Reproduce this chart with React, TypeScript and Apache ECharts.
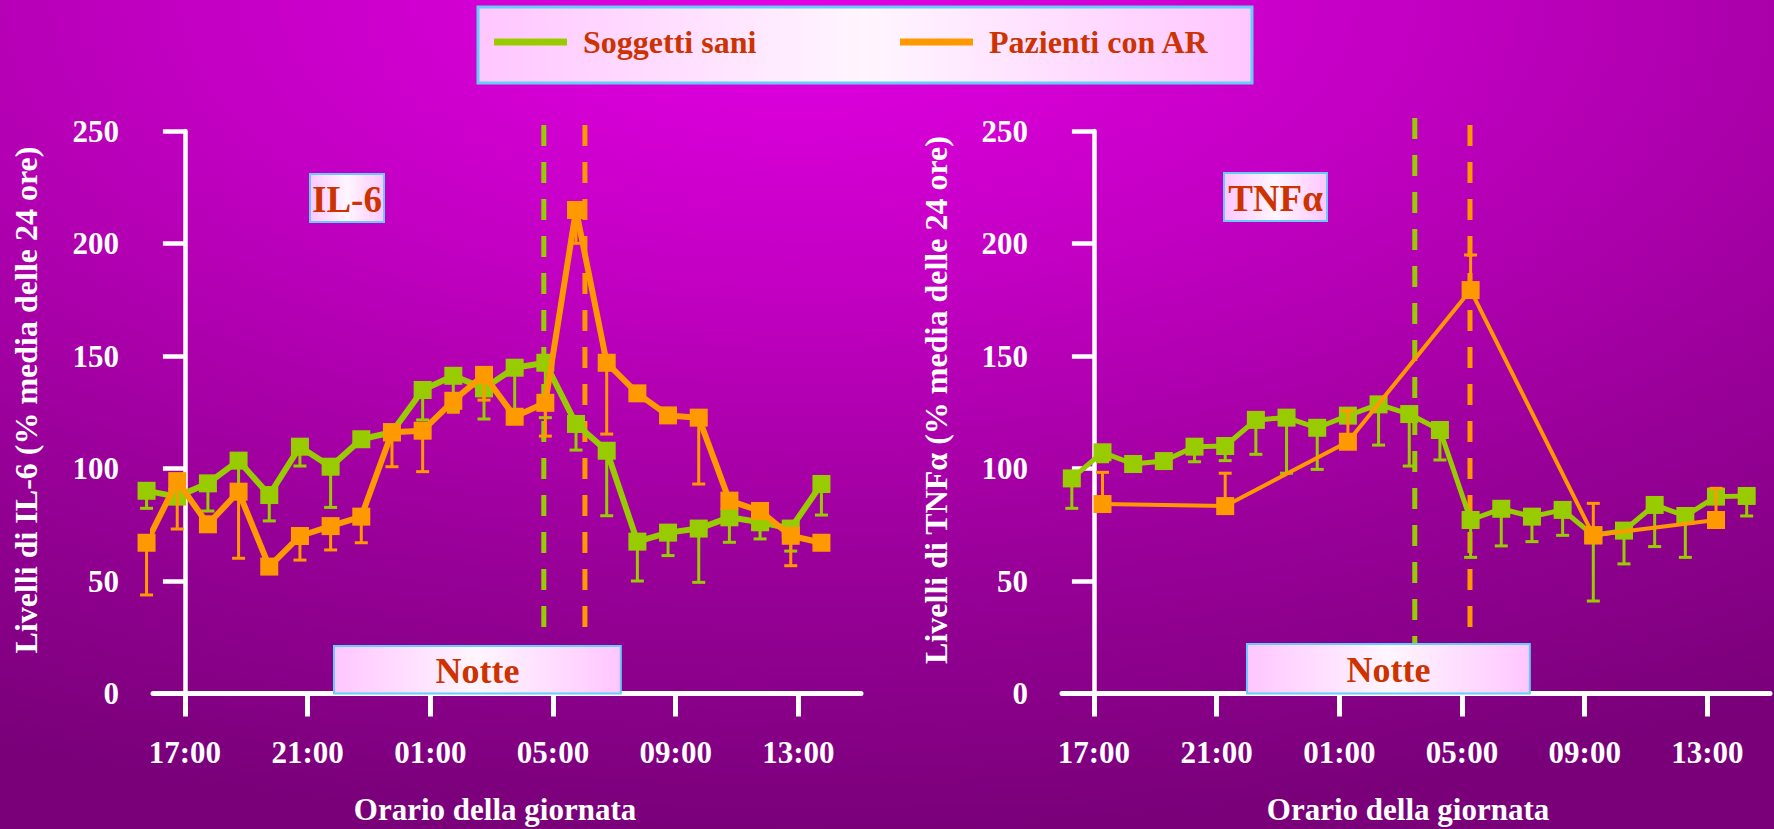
import React, { useEffect, useRef } from 'react';
import * as echarts from 'echarts';

const FONT = '"Liberation Serif", "Times New Roman", serif';
const GREEN = '#99cc00';
const ORANGE = '#ff9900';
const RED = '#cc3300';
const BORDER = '#66ccff';

// x values are hours after 17:00
const tickHours = [0, 4, 8, 12, 16, 20];
const tickLabels = ['17:00', '21:00', '01:00', '05:00', '09:00', '13:00'];

// ---- IL-6 panel ----
const il6Hours = [-1.25, -0.25, 0.75, 1.75, 2.75, 3.75, 4.75, 5.75, 6.75, 7.75, 8.75, 9.75, 10.75, 11.75, 12.75, 13.75, 14.75, 15.75, 16.75, 17.75, 18.75, 19.75, 20.75];
const il6Healthy = [90.1, 87.5, 93.4, 103.5, 88.2, 109.7, 100.8, 113, 116.1, 134.9, 141.2, 135.6, 144.8, 147, 119.8, 107.9, 67.5, 71.5, 73.3, 78.3, 76.1, 73.3, 93.1];
const il6HealthyErr = [82.3, null, 81.1, 90, 76.7, 101.1, 82.7, null, null, 121.6, 126, 122, 126, 122.6, 108.2, 79, 50, 61.3, 49.4, 67.2, 68.7, 63.3, 79.3];
const il6Patients = [67.0, 94.4, 75.2, 89.7, 56.4, 70.0, 74.4, 78.6, 116.1, 116.8, 130.1, 141.6, 123.0, 129.2, 214.9, 147.0, 133.4, 123.6, 122.6, 85.7, 81.1, 70.1, 67.0];
const il6PatientsErr = [43.8, 73.1, null, 60.1, null, 59.3, 63.8, 67.0, 100.8, 98.6, 125, 130.4, null, 114.4, 200.1, 115.3, null, null, 93.1, null, null, 56.8, null];
const il6Markers = [
  { hour: 11.70, from: 27.3, to: 252.7, color: GREEN },
  { hour: 13.04, from: 27.3, to: 252.7, color: ORANGE },
];
const il6Night = [4.86, 14.21, 21.1];

// ---- TNF-alpha panel ----
const tnfHours = [-0.72, 0.28, 1.28, 2.28, 3.28, 4.28, 5.28, 6.28, 7.28, 8.28, 9.28, 10.28, 11.28, 12.28, 13.28, 14.28, 15.28, 16.28, 17.28, 18.28, 19.28, 20.28, 21.28];
const tnfHealthy = [95.6, 107.2, 102, 103.3, 109.7, 110, 121.6, 122.6, 118.1, 123.5, 128.5, 124.2, 117.1, 77.1, 82.1, 78.6, 81.6, 70.3, 72.4, 83.8, 78.9, 87.5, 87.8];
const tnfHealthyErr = [82.3, 103, null, null, 103, 103.5, 106.3, 97.9, 99.6, null, 110.4, 101.1, 103.8, 60.5, 65.6, 67.5, 70.3, 41.1, 57.6, 65.3, 60.5, null, 78.9];
const tnfPatientHours = [0.28, 4.28, 8.28, 12.28, 16.28, 20.28];
const tnfPatients = [84.2, 83.3, 111.9, 179.3, 70.3, 77.1];
const tnfPatientsErr = [98.3, 97.9, 125.7, 194.9, 84.5, 91.2];
const tnfMarkers = [
  { hour: 10.46, from: 22, to: 255.8, color: GREEN },
  { hour: 12.26, from: 27.3, to: 252.7, color: ORANGE },
];
const tnfNight = [4.99, 14.21, 22];

const boxFill = () =>
  new echarts.graphic.LinearGradient(0, 0, 1, 0, [
    { offset: 0, color: '#ffc6ff' },
    { offset: 0.5, color: '#fff6ff' },
    { offset: 1, color: '#ffc6ff' },
  ]);

function zip(xs: number[], ys: (number | null)[]) {
  return xs.map((x, i) => [x, ys[i]]);
}

function errData(xs: number[], ys: number[], es: (number | null)[]) {
  const out: number[][] = [];
  xs.forEach((x, i) => {
    if (es[i] != null) out.push([x, ys[i], es[i] as number]);
  });
  return out;
}

function errSeries(idx: number, data: number[][], color: string, z: number) {
  return {
    type: 'custom',
    xAxisIndex: idx,
    yAxisIndex: idx,
    z,
    silent: true,
    encode: { x: 0, y: [1, 2] },
    data,
    renderItem: (params: any, api: any) => {
      const p1 = api.coord([api.value(0), api.value(1)]);
      const p2 = api.coord([api.value(0), api.value(2)]);
      return {
        type: 'group',
        children: [
          { type: 'line', shape: { x1: p1[0], y1: p1[1], x2: p2[0], y2: p2[1] }, style: { stroke: color, lineWidth: 3 } },
          { type: 'line', shape: { x1: p2[0] - 6.5, y1: p2[1], x2: p2[0] + 6.5, y2: p2[1] }, style: { stroke: color, lineWidth: 3 } },
        ],
      };
    },
  };
}

function markerSeries(idx: number, m: { hour: number; from: number; to: number; color: string }) {
  return {
    type: 'custom',
    xAxisIndex: idx,
    yAxisIndex: idx,
    z: 1,
    silent: true,
    encode: { x: 0, y: [1, 2] },
    data: [[m.hour, m.to, m.from]],
    renderItem: (params: any, api: any) => {
      const p1 = api.coord([api.value(0), api.value(1)]);
      const p2 = api.coord([api.value(0), api.value(2)]);
      return {
        type: 'line',
        shape: { x1: p1[0], y1: p1[1], x2: p2[0], y2: p2[1] },
        style: { stroke: m.color, lineWidth: 5, lineDash: [21, 16] },
      };
    },
  };
}

function nightSeries(idx: number, night: number[]) {
  return {
    type: 'custom',
    xAxisIndex: idx,
    yAxisIndex: idx,
    z: 6,
    silent: true,
    encode: { x: [0, 1], y: 2 },
    data: [night],
    renderItem: (params: any, api: any) => {
      const a = api.coord([api.value(0), 0]);
      const b = api.coord([api.value(1), api.value(2)]);
      return {
        type: 'group',
        children: [
          {
            type: 'rect',
            shape: { x: a[0], y: b[1], width: b[0] - a[0], height: a[1] - b[1] },
            style: { fill: boxFill(), stroke: BORDER, lineWidth: 2 },
          },
          {
            type: 'text',
            x: (a[0] + b[0]) / 2,
            y: (a[1] + b[1]) / 2 + 1,
            style: {
              text: 'Notte', fill: RED, fontSize: 36, fontWeight: 'bold', fontFamily: FONT,
              align: 'center', verticalAlign: 'middle', textAlign: 'center', textVerticalAlign: 'middle',
            },
          },
        ],
      };
    },
  };
}

function lineSeries(idx: number, name: string, data: any[], color: string, width: number, z: number) {
  return {
    type: 'line',
    name,
    xAxisIndex: idx,
    yAxisIndex: idx,
    z,
    clip: false,
    silent: true,
    data,
    symbol: 'rect',
    symbolSize: 18,
    showSymbol: true,
    itemStyle: { color, borderWidth: 0 },
    lineStyle: { color, width },
    emphasis: { disabled: true },
  };
}

const xAxisBase = (idx: number) => ({
  type: 'value',
  gridIndex: idx,
  min: -1.04,
  max: 22.04,
  axisLine: { show: true, onZero: false, lineStyle: { color: '#fff', width: 5 } },
  axisTick: { show: true, length: 23, customValues: tickHours, lineStyle: { color: '#fff', width: 5 } },
  axisLabel: {
    customValues: tickHours,
    formatter: (v: number) => {
      const i = tickHours.indexOf(Math.round(v));
      return i >= 0 ? tickLabels[i] : '';
    },
    color: '#fff', fontSize: 31, fontWeight: 'bold', fontFamily: FONT, margin: 43,
  },
  splitLine: { show: false },
});

const yAxisBase = (idx: number) => ({
  type: 'value',
  gridIndex: idx,
  min: 0,
  max: 250,
  interval: 50,
  axisLine: { show: true, lineStyle: { color: '#fff', width: 4.5 } },
  axisTick: { show: true, length: 22, lineStyle: { color: '#fff', width: 4.5 } },
  axisLabel: { color: '#fff', fontSize: 31, fontWeight: 'bold', fontFamily: FONT, margin: 34 },
  splitLine: { show: false },
});

const textEl = (x: number, y: number, text: string, fill: string, size: number, rotation = 0) => ({
  type: 'text',
  x, y, rotation,
  style: {
    text, fill, fontSize: size, fontWeight: 'bold', fontFamily: FONT,
    align: 'center', verticalAlign: 'middle', textAlign: 'center', textVerticalAlign: 'middle',
  },
});

export default function App() {
  const ref = useRef<HTMLDivElement>(null);
  useEffect(() => {
    document.body.style.margin = '0';
    const chart = echarts.init(ref.current!, undefined, { renderer: 'svg' });
    const legendText = { color: RED, fontSize: 32, fontWeight: 'bold', fontFamily: FONT, padding: [0, 0, 0, 11] };
    chart.setOption({
      animation: false,
      textStyle: { fontFamily: FONT },
      grid: [
        { left: 153, top: 131, width: 708, height: 562.5 },
        { left: 1062, top: 131, width: 708, height: 562.5 },
      ],
      xAxis: [xAxisBase(0), xAxisBase(1)],
      yAxis: [yAxisBase(0), yAxisBase(1)],
      legend: [
        { data: ['Soggetti sani'], left: 494, top: 26, padding: 0, icon: 'rect', itemWidth: 73, itemHeight: 7, selectedMode: false, textStyle: legendText },
        { data: ['Pazienti con AR'], left: 900, top: 26, padding: 0, icon: 'rect', itemWidth: 73, itemHeight: 7, selectedMode: false, textStyle: legendText },
      ],
      graphic: [
        {
          type: 'rect', z: -100, silent: true,
          shape: { x: 0, y: 0, width: 1774, height: 829 },
          style: {
            fill: new echarts.graphic.RadialGradient(0.45, 0, 1.0, [
              { offset: 0, color: '#e400e4' },
              { offset: 0.35, color: '#c200c2' },
              { offset: 0.7, color: '#980098' },
              { offset: 1, color: '#7a007a' },
            ]),
          },
        },
        { type: 'rect', z: 0, shape: { x: 478, y: 7, width: 774, height: 76 }, style: { fill: boxFill(), stroke: BORDER, lineWidth: 3 } },
        { type: 'rect', z: 0, shape: { x: 310, y: 174, width: 74, height: 48 }, style: { fill: boxFill(), stroke: BORDER, lineWidth: 2 } },
        textEl(347, 199, 'IL-6', RED, 37),
        { type: 'rect', z: 0, shape: { x: 1224, y: 173, width: 103, height: 48 }, style: { fill: boxFill(), stroke: BORDER, lineWidth: 2 } },
        textEl(1275.5, 198, 'TNFα', RED, 37),
        textEl(495, 809, 'Orario della giornata', '#fff', 31),
        textEl(1408, 809, 'Orario della giornata', '#fff', 31),
        textEl(26, 400, 'Livelli di IL-6 (% media delle 24 ore)', '#fff', 32, Math.PI / 2),
        textEl(936, 400, 'Livelli di TNFα (% media delle 24 ore)', '#fff', 32, Math.PI / 2),
      ],
      series: [
        ...il6Markers.map((m) => markerSeries(0, m)),
        nightSeries(0, il6Night),
        errSeries(0, errData(il6Hours, il6Healthy, il6HealthyErr), GREEN, 2),
        lineSeries(0, 'Soggetti sani', zip(il6Hours, il6Healthy), GREEN, 6, 3),
        errSeries(0, errData(il6Hours, il6Patients, il6PatientsErr), ORANGE, 4),
        lineSeries(0, 'Pazienti con AR', zip(il6Hours, il6Patients), ORANGE, 6, 5),

        ...tnfMarkers.map((m) => markerSeries(1, m)),
        nightSeries(1, tnfNight),
        errSeries(1, errData(tnfHours, tnfHealthy, tnfHealthyErr), GREEN, 2),
        lineSeries(1, 'Soggetti sani', zip(tnfHours, tnfHealthy), GREEN, 5, 3),
        errSeries(1, errData(tnfPatientHours, tnfPatients, tnfPatientsErr), ORANGE, 4),
        lineSeries(1, 'Pazienti con AR', zip(tnfPatientHours, tnfPatients), ORANGE, 4, 5),
      ],
    });
    return () => chart.dispose();
  }, []);
  return <div ref={ref} style={{ width: 1774, height: 829 }} />;
}
